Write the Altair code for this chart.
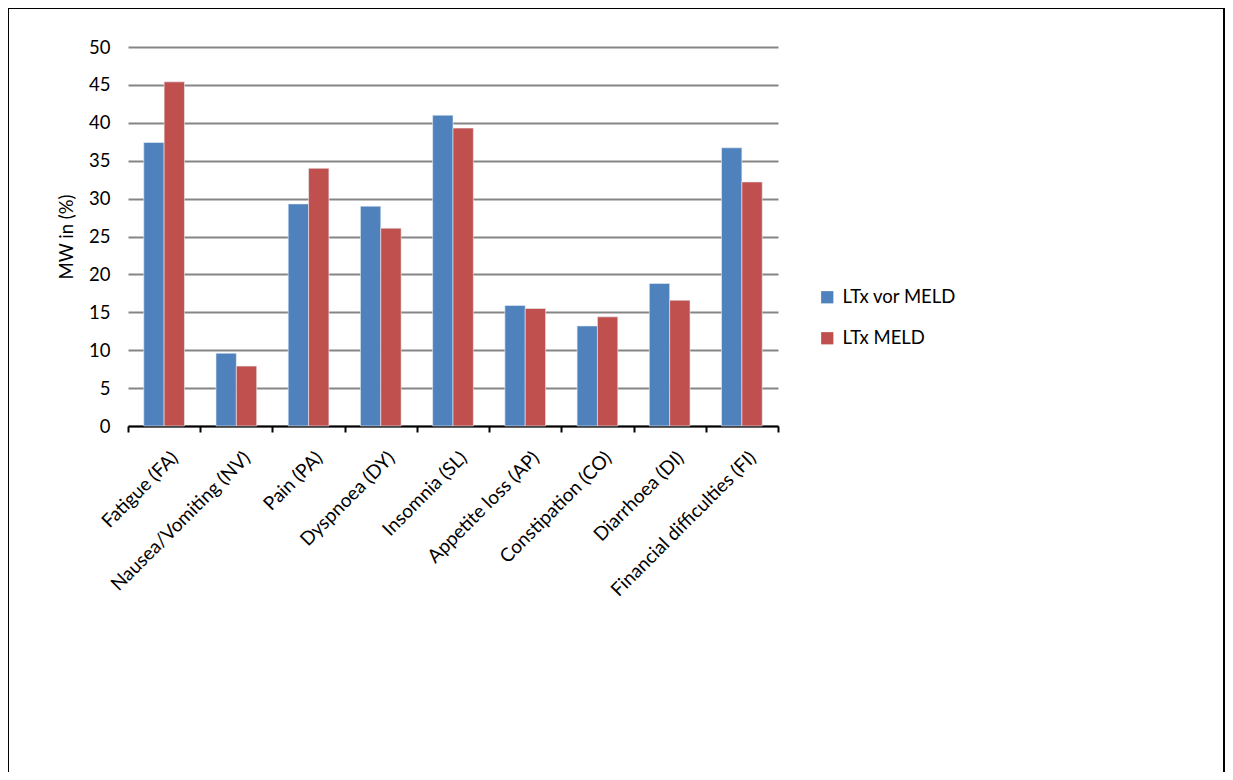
import altair as alt
import pandas as pd

categories = ["Fatigue (FA)", "Nausea/Vomiting (NV)", "Pain (PA)", "Dyspnoea (DY)",
              "Insomnia (SL)", "Appetite loss (AP)", "Constipation (CO)",
              "Diarrhoea (DI)", "Financial difficulties (FI)"]
series_names = ["LTx vor MELD", "LTx MELD"]
vor_meld = [37.4, 9.6, 29.3, 29.0, 41.0, 15.9, 13.2, 18.8, 36.7]
meld = [45.4, 7.9, 34.0, 26.1, 39.3, 15.5, 14.4, 16.6, 32.2]
colors = ["#4F81BD", "#C0504D"]
y_ticks = list(range(0, 55, 5))

rows = []
for c, a, b in zip(categories, vor_meld, meld):
    rows.append({"cat": c, "series": series_names[0], "value": a})
    rows.append({"cat": c, "series": series_names[1], "value": b})
df = pd.DataFrame(rows)

FONT = "Lato"

bars = alt.Chart(df).mark_bar(stroke="#e8eef7", strokeWidth=0.6).encode(
    x=alt.X("cat:N", sort=categories, title=None,
            scale=alt.Scale(paddingInner=0, paddingOuter=0),
            axis=alt.Axis(labelAngle=-45, labelAlign="right", labelBaseline="top",
                          labelFontSize=19, labelFont=FONT, labelColor="#000000",
                          labelPadding=16, labelOffset=4, tickBand="extent", tickSize=6,
                          tickColor="#000000", domainColor="#000000", domainWidth=2,
                          tickWidth=2, grid=False, labelLimit=400)),
    xOffset=alt.XOffset("series:N", sort=series_names,
                        scale=alt.Scale(paddingInner=0, paddingOuter=0.774)),
    y=alt.Y("value:Q", title="MW in (%)",
            scale=alt.Scale(domain=[0, 50], nice=False),
            axis=alt.Axis(values=y_ticks, ticks=False, domain=False, labelPadding=18,
                          labelFontSize=18.5, labelFont=FONT, labelColor="#000000",
                          titleFontSize=18.5, titleFont=FONT, titleFontWeight="normal",
                          titleColor="#000000", titlePadding=12,
                          gridColor="#858585", gridWidth=1.8)),
    color=alt.Color("series:N", sort=series_names,
                    scale=alt.Scale(domain=series_names, range=colors),
                    legend=alt.Legend(title=None, orient="none", legendX=690, legendY=241,
                                      symbolType="square", symbolSize=150,
                                      symbolStrokeWidth=0, labelFontSize=18.5,
                                      labelFont=FONT, labelColor="#000000",
                                      rowPadding=22, labelOffset=6)),
)

frame = alt.Chart(pd.DataFrame({"k": [0]})).mark_rect(
    fill="transparent", stroke="#000000", strokeWidth=2, clip=False
).encode(
    x=alt.value(-120), x2=alt.value(1096), y=alt.value(-39), y2=alt.value(800)
)

chart = alt.layer(frame, bars).properties(
    width=650, height=379,
    autosize=alt.AutoSizeParams(type="none"),
    padding={"left": 120, "top": 39, "right": 447, "bottom": 346},
    background="#ffffff",
).configure_view(stroke=None)

chart.save("out.html", embed_options={"renderer": "svg", "actions": False})
